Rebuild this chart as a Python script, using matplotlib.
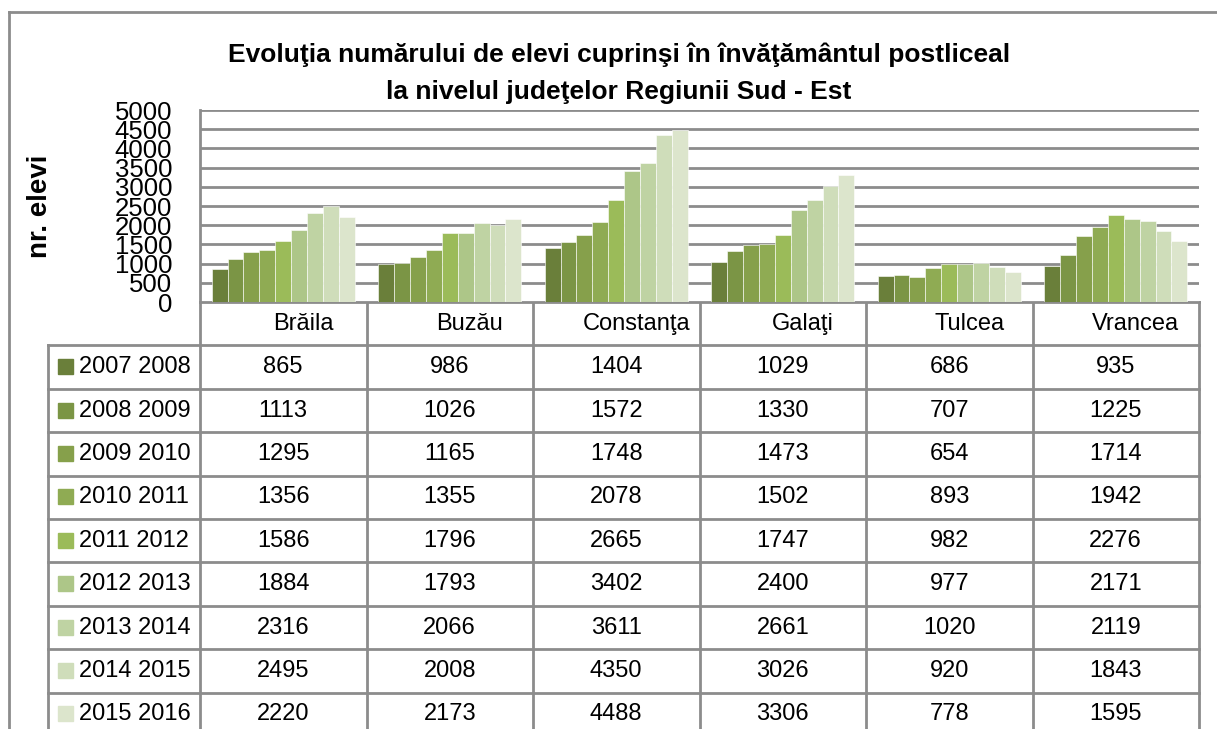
import numpy as np
import matplotlib
matplotlib.use("Agg")
import matplotlib.pyplot as plt

# judete si anii scolari
judete = ["Brăila", "Buzău", "Constanţa", "Galaţi", "Tulcea", "Vrancea"]
ani = ["2007 2008", "2008 2009", "2009 2010", "2010 2011", "2011 2012",
       "2012 2013", "2013 2014", "2014 2015", "2015 2016"]

v_2007 = [865, 986, 1404, 1029, 686, 935]
v_2008 = [1113, 1026, 1572, 1330, 707, 1225]
v_2009 = [1295, 1165, 1748, 1473, 654, 1714]
v_2010 = [1356, 1355, 2078, 1502, 893, 1942]
v_2011 = [1586, 1796, 2665, 1747, 982, 2276]
v_2012 = [1884, 1793, 3402, 2400, 977, 2171]
v_2013 = [2316, 2066, 3611, 2661, 1020, 2119]
v_2014 = [2495, 2008, 4350, 3026, 920, 1843]
v_2015 = [2220, 2173, 4488, 3306, 778, 1595]
valori = [v_2007, v_2008, v_2009, v_2010, v_2011, v_2012, v_2013, v_2014, v_2015]

culori = ["#6a7f3a", "#7b9545", "#86a04b", "#8fab53", "#9bbb59",
          "#adc688", "#bfd3a3", "#cfddba", "#dce5cc"]

plt.rcParams['font.family'] = ['Liberation Sans', 'DejaVu Sans']

W, H = 1217, 729
fig = plt.figure(figsize=(W / 100, H / 100), dpi=100)

# geometrie (pixeli)
px_l, px_r, px_t, px_b = 200, 1199, 110, 302
row_h = 43.4
gri = "#8c8c8c"

ax = fig.add_axes([px_l / W, 1 - px_b / H, (px_r - px_l) / W, (px_b - px_t) / H])
x = np.arange(len(judete))
bw = 0.0955
for i, serie in enumerate(valori):
    ax.bar(x + (i - 4) * bw, serie, width=bw, color=culori[i],
           edgecolor="white", linewidth=0.4, zorder=3)
ax.set_xlim(-0.5, len(judete) - 0.5)
ax.set_ylim(0, 5000)
ax.set_yticks(np.arange(0, 5001, 500))
ax.set_yticklabels([str(t) for t in range(0, 5001, 500)], fontsize=18.5)
ax.tick_params(axis='y', length=0, pad=20)
ax.set_xticks([])
ax.grid(axis='y', color=gri, linewidth=2, zorder=0)
for s in ["top", "right", "bottom"]:
    ax.spines[s].set_visible(False)
ax.spines["left"].set_color(gri)
ax.spines["left"].set_linewidth(2)

ax.text(-0.16, 0.5, "nr. elevi", transform=ax.transAxes, rotation=90,
        ha="center", va="center", fontsize=20, fontweight="bold")

# overlay pentru tabel, titlu si chenar
ov = fig.add_axes([0, 0, 1, 1], zorder=-1)
ov.set_xlim(0, W)
ov.set_ylim(H, 0)
ov.axis("off")

ov.plot([9, W], [12, 12], color=gri, lw=2)
ov.plot([9, 9], [12, H], color=gri, lw=2)

ov.text(619, 55, "Evoluţia numărului de elevi cuprinşi în învăţământul postliceal",
        ha="center", va="center", fontsize=19, fontweight="bold")
ov.text(619, 92, "la nivelul judeţelor Regiunii Sud - Est",
        ha="center", va="center", fontsize=19, fontweight="bold")

col_w = (px_r - px_l) / len(judete)
tab_l = 48
n_rows = len(ani)
y_bot = px_b + row_h * (n_rows + 1)

# linii tabel
ov.plot([px_l, px_r], [px_b, px_b], color=gri, lw=2)
for j in range(len(judete) + 1):
    xx = px_l + j * col_w
    ov.plot([xx, xx], [px_b, y_bot], color=gri, lw=2)
for r in range(n_rows + 1):
    yy = px_b + row_h * (r + 1)
    ov.plot([tab_l, px_r], [yy, yy], color=gri, lw=2)
ov.plot([tab_l, tab_l], [px_b + row_h, y_bot], color=gri, lw=2)

for j, jud in enumerate(judete):
    ov.text(px_l + (j + 0.62) * col_w, px_b + row_h / 2, jud,
            ha="center", va="center", fontsize=17)

for r, an in enumerate(ani):
    yc = px_b + row_h * (r + 1.5)
    ov.add_patch(plt.Rectangle((58, yc - 8), 15, 15, color=culori[r]))
    ov.text(79, yc, an, ha="left", va="center", fontsize=17)
    for j in range(len(judete)):
        ov.text(px_l + (j + 0.5) * col_w, yc, str(valori[r][j]),
                ha="center", va="center", fontsize=17)

fig.savefig("out.png", dpi=100)
